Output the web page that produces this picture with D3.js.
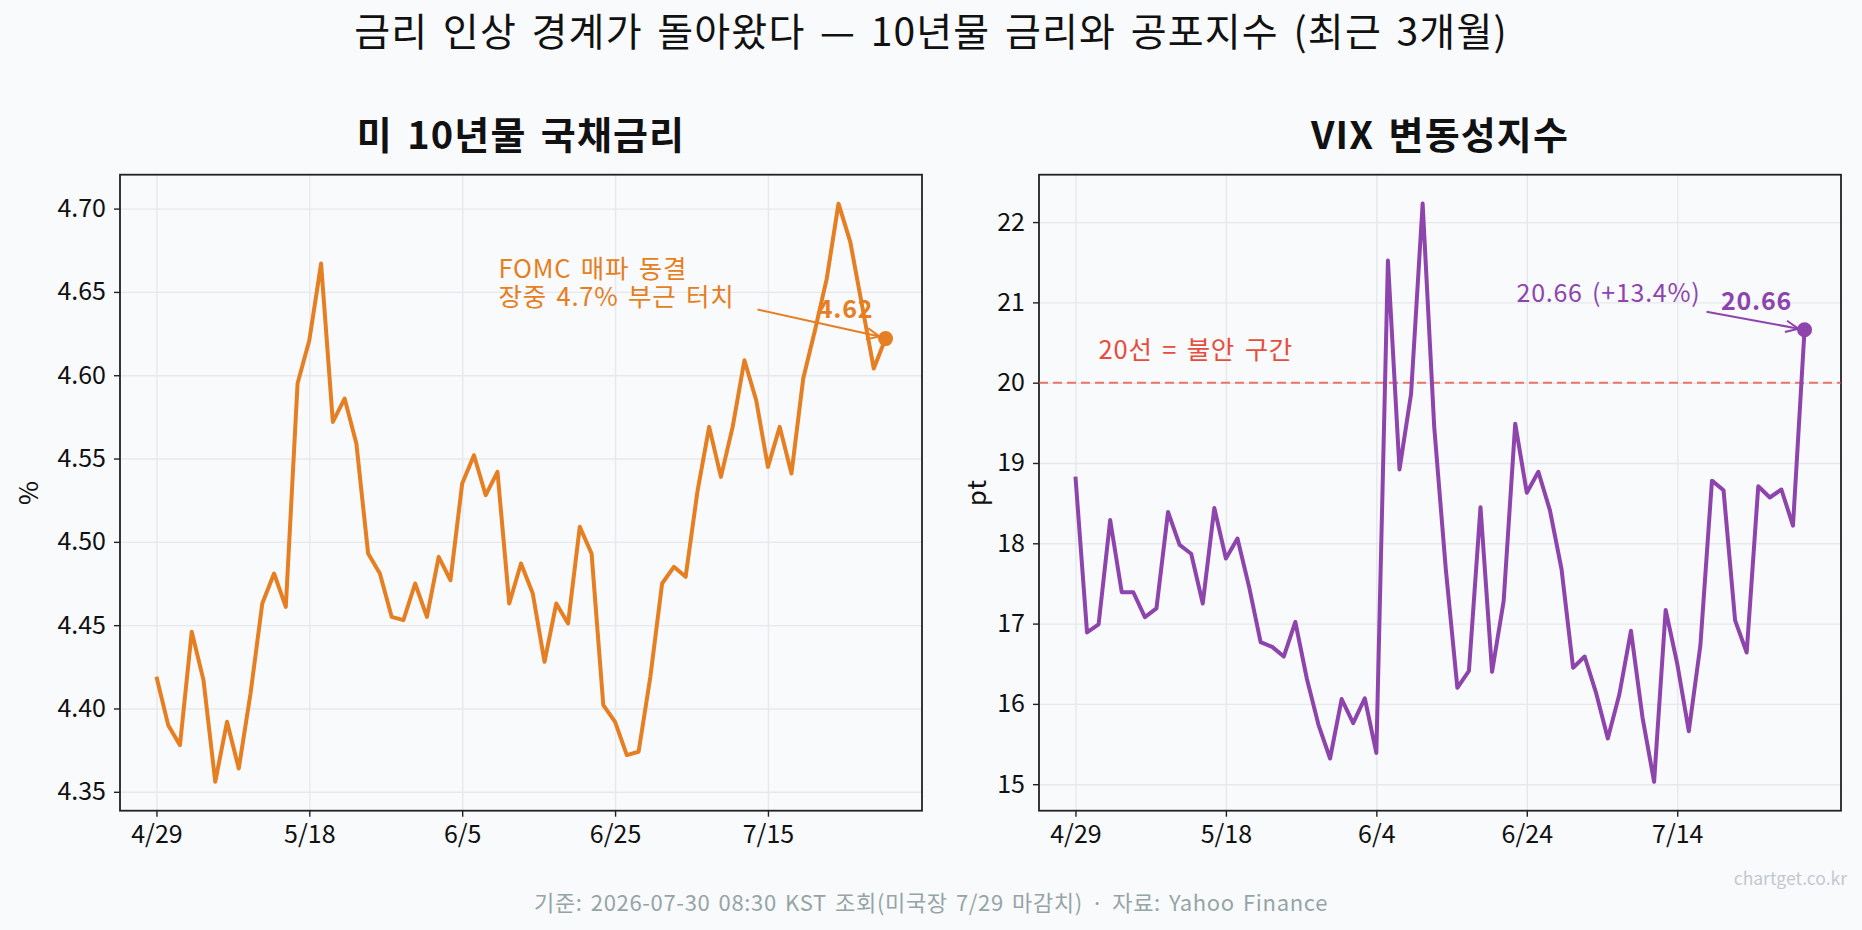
<!DOCTYPE html>
<html>
<head>
<meta charset="utf-8">
<script src="https://cdn.jsdelivr.net/npm/d3@7"></script>
<style>
  body { margin: 0; background: #f9fafc; }
  text { font-family: "Noto Sans CJK KR", "Noto Sans", sans-serif; letter-spacing: 0.03em; word-spacing: 0.12em; }
  .tick text { letter-spacing: 0; word-spacing: 0; }
</style>
</head>
<body>
<svg id="chart"></svg>
<script>
const W = 1862, H = 930;

// 미 10년물 국채금리 (trading days)
const rateDates = ["4/29","4/30","5/1","5/4","5/5","5/6","5/7","5/8","5/11","5/12","5/13","5/14","5/15",
  "5/18","5/19","5/20","5/21","5/22","5/26","5/27","5/28","5/29","6/1","6/2","6/3","6/4",
  "6/5","6/8","6/9","6/10","6/11","6/12","6/15","6/16","6/17","6/18","6/22","6/23","6/24",
  "6/25","6/26","6/29","6/30","7/1","7/2","7/6","7/7","7/8","7/9","7/10","7/13","7/14",
  "7/15","7/16","7/17","7/20","7/21","7/22","7/23","7/24","7/27","7/28","7/29"];
const rateValues = [4.419,4.390,4.378,4.446,4.417,4.356,4.392,4.364,4.409,4.463,4.481,4.461,4.595,
  4.621,4.667,4.572,4.586,4.559,4.493,4.481,4.455,4.453,4.475,4.455,4.491,4.477,
  4.535,4.552,4.528,4.542,4.463,4.487,4.469,4.428,4.463,4.451,4.509,4.493,4.402,
  4.392,4.372,4.374,4.419,4.475,4.485,4.479,4.530,4.569,4.539,4.569,4.609,4.585,
  4.545,4.569,4.541,4.598,4.627,4.658,4.703,4.680,4.642,4.604,4.622];
const rateTickLabels = ["4/29","5/18","6/5","6/25","7/15"];

// VIX 변동성지수
const vixDates = ["4/29","4/30","5/1","5/4","5/5","5/6","5/7","5/8","5/11","5/12","5/13","5/14","5/15",
  "5/18","5/19","5/20","5/21","5/22","5/25","5/26","5/27","5/28","5/29","6/1","6/2","6/3",
  "6/4","6/5","6/8","6/9","6/10","6/11","6/12","6/15","6/16","6/17","6/18","6/22","6/23",
  "6/24","6/25","6/26","6/29","6/30","7/1","7/2","7/6","7/7","7/8","7/9","7/10","7/13",
  "7/14","7/15","7/16","7/17","7/20","7/21","7/22","7/23","7/24","7/27","7/28","7/29"];
const vixValues = [18.83,16.89,16.99,18.29,17.39,17.39,17.08,17.19,18.39,17.98,17.87,17.25,18.44,
  17.81,18.06,17.46,16.77,16.71,16.59,17.02,16.31,15.74,15.32,16.06,15.76,16.07,
  15.39,21.52,18.92,19.86,22.23,19.45,17.68,16.20,16.41,18.45,16.40,17.28,19.49,
  18.63,18.89,18.41,17.68,16.45,16.59,16.13,15.57,16.12,16.91,15.83,15.03,17.17,
  16.50,15.66,16.73,18.78,18.66,17.04,16.64,18.71,18.57,18.67,18.22,20.66];
const vixTickLabels = ["4/29","5/18","6/4","6/24","7/14"];
const vixAlertLevel = 20;

const ORANGE = "#e67e22", PURPLE = "#8e44ad", RED = "#e74c3c";

const svg = d3.select("#chart").attr("width", W).attr("height", H);
svg.append("rect").attr("width", W).attr("height", H).attr("fill", "#f9fafc");

svg.append("text")
    .attr("x", W / 2).attr("y", 28.5)
    .attr("text-anchor", "middle").attr("dominant-baseline", "central")
    .style("font-size", "39px").attr("fill", "#111")
    .text("금리 인상 경계가 돌아왔다 — 10년물 금리와 공포지수 (최근 3개월)");

function panel(o) {
  const g = svg.append("g");
  const n = o.values.length - 1;
  const x = d3.scaleLinear().domain([-0.05 * n, 1.05 * n]).range([o.left, o.right]);
  const [lo, hi] = d3.extent(o.values);
  const pad = (hi - lo) * 0.05;
  const y = d3.scaleLinear().domain([lo - pad, hi + pad]).range([o.bottom, o.top]);
  const tickIdx = o.ticks.map(t => o.dates.indexOf(t));

  // grid
  g.append("g")
      .attr("transform", `translate(0,${o.bottom})`)
      .call(d3.axisBottom(x).tickValues(tickIdx).tickSize(-(o.bottom - o.top)).tickFormat(""))
      .call(a => a.select(".domain").remove())
      .selectAll("line").attr("stroke", "#e6e8eb").attr("stroke-width", 1.4);
  g.append("g")
      .attr("transform", `translate(${o.left},0)`)
      .call(d3.axisLeft(y).ticks(8).tickSize(-(o.right - o.left)).tickFormat(""))
      .call(a => a.select(".domain").remove())
      .selectAll("line").attr("stroke", "#e6e8eb").attr("stroke-width", 1.4);

  // axes
  const xa = g.append("g")
      .attr("transform", `translate(0,${o.bottom})`)
      .call(d3.axisBottom(x).tickValues(tickIdx).tickFormat(i => o.dates[i])
        .tickSize(6).tickSizeOuter(0).tickPadding(9));
  const ya = g.append("g")
      .attr("transform", `translate(${o.left},0)`)
      .call(d3.axisLeft(y).ticks(8).tickFormat(d3.format(o.yFormat))
        .tickSize(6).tickSizeOuter(0).tickPadding(8));
  [xa, ya].forEach(a => {
    a.select(".domain").remove();
    a.selectAll("line").attr("stroke", "#222").attr("stroke-width", 1.4);
    a.selectAll("text").style("font-size", "25px").attr("fill", "#111");
  });

  g.append("rect")
      .attr("x", o.left).attr("y", o.top)
      .attr("width", o.right - o.left).attr("height", o.bottom - o.top)
      .attr("fill", "none").attr("stroke", "#222").attr("stroke-width", 1.8);

  g.append("text")
      .attr("x", (o.left + o.right) / 2).attr("y", 132.5)
      .attr("text-anchor", "middle").attr("dominant-baseline", "central")
      .style("font-size", "38px").style("font-weight", "bold").attr("fill", "#111")
      .text(o.title);

  g.append("text")
      .attr("transform", `translate(${o.ylabelX},${(o.top + o.bottom) / 2}) rotate(-90)`)
      .attr("text-anchor", "middle").attr("dominant-baseline", "central")
      .style("font-size", "26px").attr("fill", "#111")
      .text(o.ylabel);

  const line = d3.line().x((d, i) => x(i)).y(d => y(d));
  g.append("path")
      .datum(o.values)
      .attr("d", line)
      .attr("fill", "none").attr("stroke", o.color)
      .attr("stroke-width", 4).attr("stroke-linejoin", "round");

  const last = o.values.length - 1;
  g.append("circle")
      .attr("cx", x(last)).attr("cy", y(o.values[last])).attr("r", 7.5)
      .attr("fill", o.color);

  return { g, x, y, px: x(last), py: y(o.values[last]) };
}

function arrow(g, x1, y1, x2, y2, color) {
  const a = Math.atan2(y2 - y1, x2 - x1), L = 14, s = 0.42;
  g.append("line").attr("x1", x1).attr("y1", y1).attr("x2", x2).attr("y2", y2)
      .attr("stroke", color).attr("stroke-width", 2);
  g.append("path")
      .attr("d", `M${x2 - L * Math.cos(a - s)},${y2 - L * Math.sin(a - s)}L${x2},${y2}L${x2 - L * Math.cos(a + s)},${y2 - L * Math.sin(a + s)}`)
      .attr("fill", "none").attr("stroke", color).attr("stroke-width", 2);
}

// left panel: 10Y yield
const p1 = panel({
  left: 120, right: 922, top: 174.7, bottom: 810.7,
  dates: rateDates, values: rateValues, ticks: rateTickLabels,
  color: ORANGE, title: "미 10년물 국채금리", ylabel: "%", ylabelX: 26, yFormat: ".2f"
});
["FOMC 매파 동결", "장중 4.7% 부근 터치"].forEach((t, i) => {
  p1.g.append("text")
      .attr("x", p1.px - 387).attr("y", p1.py - 72 + i * 28)
      .attr("dominant-baseline", "central")
      .style("font-size", "25.5px").attr("fill", ORANGE)
      .text(t);
});
arrow(p1.g, p1.px - 128, p1.py - 29, p1.px - 6, p1.py - 2, ORANGE);
p1.g.append("text")
    .attr("x", p1.px - 40).attr("y", p1.py - 32)
    .attr("text-anchor", "middle").attr("dominant-baseline", "central")
    .style("font-size", "25px").style("font-weight", "bold").attr("fill", ORANGE)
    .text(d3.format(".2f")(rateValues[rateValues.length - 1]));

// right panel: VIX
const p2 = panel({
  left: 1039, right: 1841, top: 174.7, bottom: 810.7,
  dates: vixDates, values: vixValues, ticks: vixTickLabels,
  color: PURPLE, title: "VIX 변동성지수", ylabel: "pt", ylabelX: 974, yFormat: "d"
});
p2.g.insert("line", "path")
    .attr("x1", 1039).attr("x2", 1841)
    .attr("y1", p2.y(vixAlertLevel)).attr("y2", p2.y(vixAlertLevel))
    .attr("stroke", RED).attr("stroke-opacity", 0.75)
    .attr("stroke-width", 2).attr("stroke-dasharray", "9,5");
p2.g.append("text")
    .attr("x", p2.x(2)).attr("y", p2.y(vixAlertLevel) - 35)
    .attr("dominant-baseline", "central")
    .style("font-size", "25.5px").attr("fill", RED)
    .text("20선 = 불안 구간");
const vLast = vixValues[vixValues.length - 1], vPrev = vixValues[vixValues.length - 2];
p2.g.append("text")
    .attr("x", p2.px - 288).attr("y", p2.py - 39)
    .attr("dominant-baseline", "central")
    .style("font-size", "25px").attr("fill", PURPLE)
    .text(`${vLast.toFixed(2)} (+${((vLast / vPrev - 1) * 100).toFixed(1)}%)`);
arrow(p2.g, p2.px - 98, p2.py - 18, p2.px - 6, p2.py - 1, PURPLE);
p2.g.append("text")
    .attr("x", p2.px - 48).attr("y", p2.py - 31)
    .attr("text-anchor", "middle").attr("dominant-baseline", "central")
    .style("font-size", "25px").style("font-weight", "bold").attr("fill", PURPLE)
    .text(vLast.toFixed(2));

// footer
svg.append("text")
    .attr("x", 1847).attr("y", 877)
    .attr("text-anchor", "end").attr("dominant-baseline", "central")
    .style("font-size", "17.5px").style("letter-spacing", "0").attr("fill", "#c3c8cf")
    .text("chartget.co.kr");
svg.append("text")
    .attr("x", W / 2).attr("y", 901)
    .attr("text-anchor", "middle").attr("dominant-baseline", "central")
    .style("font-size", "22px").attr("fill", "#95a5a6")
    .text("기준: 2026-07-30 08:30 KST 조회(미국장 7/29 마감치) · 자료: Yahoo Finance");
</script>
</body>
</html>
